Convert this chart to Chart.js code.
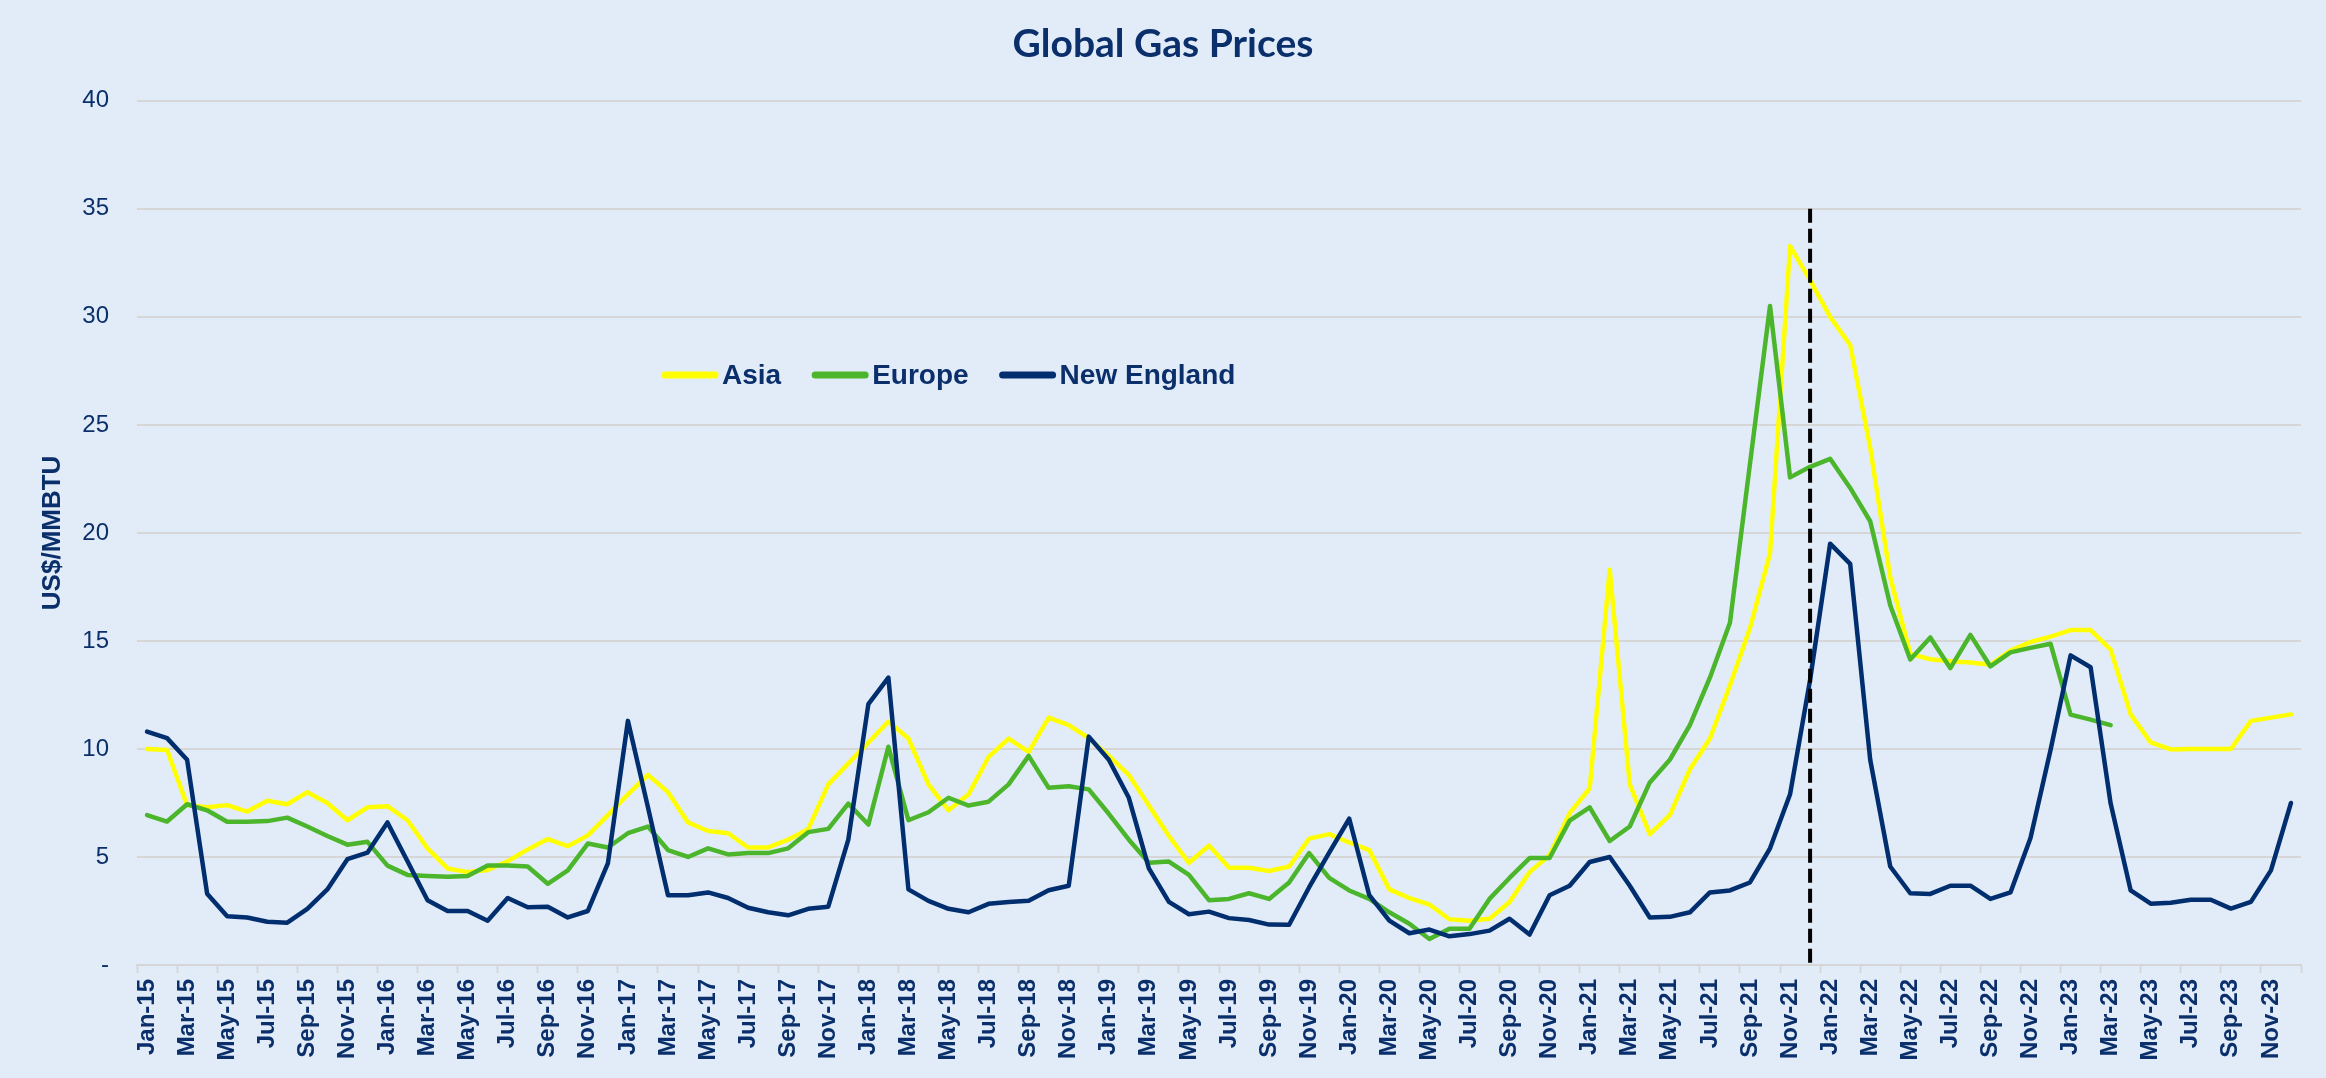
<!DOCTYPE html>
<html>
<head>
<meta charset="utf-8">
<title>Global Gas Prices</title>
<script src="https://cdn.jsdelivr.net/npm/chart.js@4.4.1/dist/chart.umd.min.js"></script>
<style>
  html, body { margin: 0; padding: 0; background: #E2ECF8; }
  #wrap { width: 2326px; height: 1078px; position: relative; }
</style>
</head>
<body>
<div id="wrap"><canvas id="gasChart"></canvas></div>
<script>
// Monthly categories Jan-15 .. Dec-23
const years = ['15', '16', '17', '18', '19', '20', '21', '22', '23'];
const monthNames = ['Jan', 'Feb', 'Mar', 'Apr', 'May', 'Jun', 'Jul', 'Aug', 'Sep', 'Oct', 'Nov', 'Dec'];
const months = [];
years.forEach(y => monthNames.forEach(m => months.push(m + '-' + y)));

// US$/MMBTU
const asia = [
  10.0, 9.95, 7.4, 7.3, 7.4, 7.1, 7.6, 7.44, 8.0, 7.5, 6.7, 7.3,
  7.35, 6.7, 5.4, 4.47, 4.3, 4.4, 4.8, 5.35, 5.83, 5.5, 6.0, 6.94,
  7.9, 8.8, 8.0, 6.6, 6.2, 6.1, 5.44, 5.44, 5.8, 6.3, 8.36, 9.33,
  10.3, 11.27, 10.48, 8.36, 7.16, 7.9, 9.63, 10.48, 9.86, 11.45, 11.1, 10.5,
  9.68, 8.8, 7.38, 5.97, 4.73, 5.53, 4.5, 4.5, 4.35, 4.56, 5.85, 6.06,
  5.67, 5.32, 3.5, 3.1, 2.8, 2.12, 2.05, 2.14, 2.92, 4.3, 5.09, 7.03,
  8.18, 18.3, 8.36, 6.06, 6.94, 9.06, 10.48, 12.95, 15.6, 19.05, 33.27, 31.7,
  30.0, 28.7, 23.95, 17.95, 14.4, 14.15, 14.06, 14.0, 13.9, 14.55, 14.95, 15.2,
  15.5, 15.5, 14.6, 11.6, 10.3, 9.98, 10.0, 10.0, 10.0, 11.3, 11.45, 11.6
];
const europe = [
  6.94, 6.64, 7.44, 7.16, 6.63, 6.63, 6.66, 6.82, 6.41, 5.97, 5.57, 5.7,
  4.6, 4.17, 4.12, 4.08, 4.12, 4.61, 4.6, 4.56, 3.76, 4.38, 5.62, 5.44,
  6.1, 6.41, 5.32, 5.0, 5.4, 5.12, 5.18, 5.18, 5.4, 6.15, 6.3, 7.47,
  6.5, 10.1, 6.7, 7.07, 7.74, 7.38, 7.56, 8.36, 9.68, 8.2, 8.27, 8.13,
  7.0, 5.8, 4.73, 4.79, 4.17, 3.0, 3.06, 3.32, 3.06, 3.82, 5.18, 4.03,
  3.45, 3.06, 2.44, 1.91, 1.2, 1.68, 1.68, 3.06, 4.03, 4.95, 4.95, 6.68,
  7.3, 5.74, 6.41, 8.45, 9.5, 11.1, 13.3, 15.84, 23.2, 30.5, 22.57, 23.06,
  23.43, 22.08, 20.54, 16.65, 14.14, 15.16, 13.74, 15.28, 13.82, 14.47, 14.68, 14.87,
  11.59, 11.36, 11.1
];
const newEngland = [
  10.8, 10.5, 9.5, 3.3, 2.26, 2.2, 2.0, 1.96, 2.6, 3.5, 4.9, 5.2,
  6.6, 4.8, 3.0, 2.5, 2.5, 2.05, 3.1, 2.67, 2.7, 2.2, 2.5, 4.7,
  11.3, 7.3, 3.23, 3.23, 3.36, 3.1, 2.65, 2.44, 2.3, 2.6, 2.7, 5.8,
  12.07, 13.3, 3.5, 2.97, 2.6, 2.44, 2.83, 2.92, 2.97, 3.46, 3.67, 10.57,
  9.5, 7.74, 4.47, 2.92, 2.35, 2.47, 2.17, 2.08, 1.87, 1.86, 3.6, 5.2,
  6.77, 3.23, 2.05, 1.47, 1.64, 1.33, 1.43, 1.59, 2.14, 1.41, 3.23, 3.67,
  4.77, 5.0, 3.67, 2.2, 2.23, 2.44, 3.36, 3.45, 3.82, 5.4, 7.9, 13.2,
  19.5, 18.57, 9.5, 4.56, 3.32, 3.29, 3.67, 3.67, 3.06, 3.36, 5.88, 9.95,
  14.33, 13.78, 7.47, 3.45, 2.84, 2.88, 3.02, 3.02, 2.61, 2.92, 4.38, 7.5
];

// dashed marker line
const markerMonth = 'Dec-21';
const markerTop = 35;

const navy = '#0A2F6B';
const axisFont = "'Liberation Sans', Arial, sans-serif";

// vertical dashed line at the marker month
const markerLine = {
  id: 'markerLine',
  afterDatasetsDraw(chart) {
    const { ctx, scales: { x, y } } = chart;
    const px = x.getPixelForValue(months.indexOf(markerMonth));
    ctx.save();
    ctx.strokeStyle = '#000000';
    ctx.lineWidth = 4;
    ctx.setLineDash([14, 6]);
    ctx.beginPath();
    ctx.moveTo(px, y.getPixelForValue(markerTop));
    ctx.lineTo(px, y.getPixelForValue(0));
    ctx.stroke();
    ctx.restore();
  }
};

// legend sits inside the plot, so draw it by hand
const insideLegend = {
  id: 'insideLegend',
  afterDraw(chart) {
    const ctx = chart.ctx;
    let lx = 662;
    const ly = 375;
    ctx.save();
    ctx.font = "bold 28px " + axisFont;
    ctx.textBaseline = 'middle';
    chart.data.datasets.forEach(ds => {
      ctx.strokeStyle = ds.borderColor;
      ctx.lineWidth = 7;
      ctx.lineCap = 'round';
      ctx.beginPath();
      ctx.moveTo(lx + 3, ly);
      ctx.lineTo(lx + 53, ly);
      ctx.stroke();
      ctx.fillStyle = navy;
      ctx.fillText(ds.label, lx + 60, ly + 1);
      lx += 60 + ctx.measureText(ds.label).width + 31;
    });
    ctx.restore();
  }
};

new Chart(document.getElementById('gasChart'), {
  type: 'line',
  data: {
    labels: months,
    datasets: [
      { label: 'Asia', data: asia, borderColor: '#FFFF00', order: 3 },
      { label: 'Europe', data: europe, borderColor: '#4BB52B', order: 2 },
      { label: 'New England', data: newEngland, borderColor: '#002E6E', order: 1 }
    ]
  },
  options: {
    responsive: true,
    maintainAspectRatio: false,
    animation: false,
    layout: { padding: { left: 25, right: 25, top: 0, bottom: 0 } },
    elements: {
      point: { radius: 0 },
      line: { borderWidth: 4.5, tension: 0, borderJoinStyle: 'round', borderCapStyle: 'round' }
    },
    plugins: {
      legend: { display: false },
      tooltip: { enabled: false },
      title: {
        display: true,
        text: 'Global Gas Prices',
        color: navy,
        font: { family: "Lato, 'Open Sans', sans-serif", size: 39, weight: 'bold' },
        padding: { top: 21, bottom: 33 }
      }
    },
    scales: {
      x: {
        offset: true,
        afterFit(scale) { scale.height = 113; },
        grid: {
          offset: true,
          drawOnChartArea: false,
          drawTicks: true,
          tickLength: 8,
          tickWidth: 2,
          tickColor: c => (c.index === undefined || c.index % 2 === 0) ? '#D6D6D6' : 'rgba(0,0,0,0)'
        },
        border: { display: true, color: '#D6D6D6', width: 2 },
        ticks: {
          autoSkip: false,
          maxRotation: 90,
          minRotation: 90,
          padding: 6,
          color: navy,
          font: { family: axisFont, size: 24, weight: 'bold' },
          callback: (v, i) => i % 2 === 0 ? months[i] : ''
        }
      },
      y: {
        min: 0,
        max: 40,
        afterFit(scale) { scale.width = 112; },
        grid: { color: '#D6D6D6', lineWidth: 2, drawTicks: false },
        border: { display: false },
        ticks: {
          stepSize: 5,
          padding: 28,
          color: navy,
          font: { family: axisFont, size: 24 },
          callback: v => v === 0 ? '-' : v
        },
        title: {
          display: true,
          text: 'US$/MMBTU',
          color: navy,
          font: { family: axisFont, size: 26, weight: 'bold' },
          padding: { top: 12, bottom: 0 }
        }
      }
    }
  },
  plugins: [markerLine, insideLegend]
});
</script>
</body>
</html>
